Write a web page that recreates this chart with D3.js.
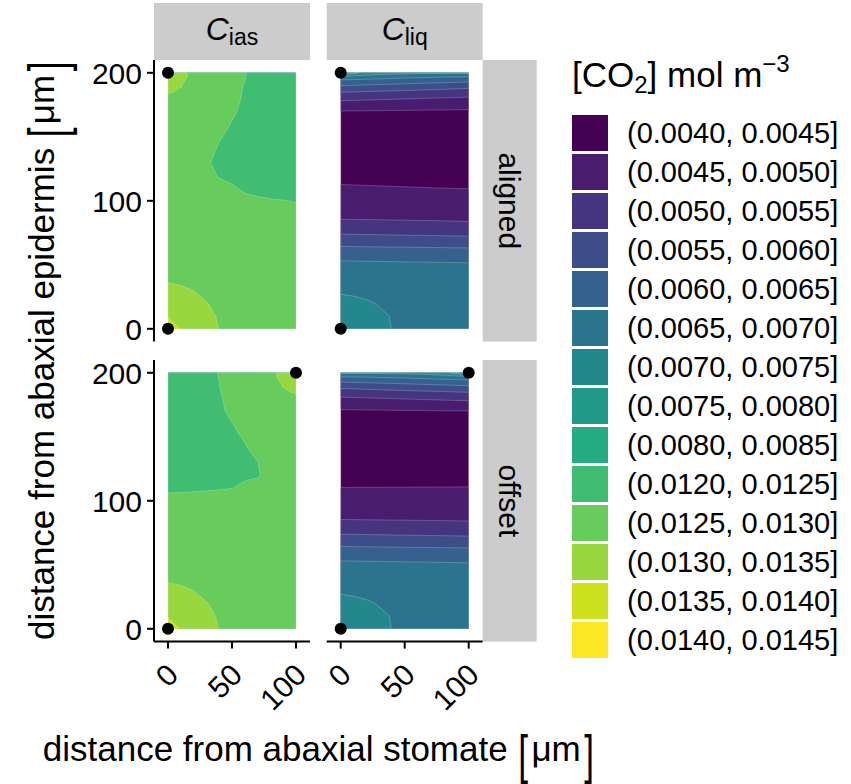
<!DOCTYPE html>
<html>
<head>
<meta charset="utf-8">
<script src="https://cdn.jsdelivr.net/npm/d3@7"></script>
<style>
  body { margin: 0; background: #fff; }
  svg { display: block; font-family: "Liberation Sans", Arial, Helvetica, sans-serif; }
</style>
</head>
<body>
<div id="chart"></div>
<script>
// Grid positions (µm) of the sampled concentration values.
const xs = [0, 10, 20, 30, 40, 50, 60, 70, 80, 90, 100];
const ys = [0, 10, 20, 30, 40, 50, 60, 70, 80, 90, 100, 110, 120, 130, 140, 150, 160, 170, 180, 185, 190, 194, 197, 200];

// [CO2] in µmol m^-3 (1e-6 mol m^-3); one row per y, one column per x.
const ciasAligned = [
  [14200, 13420, 13230, 13080, 12995, 12910, 12840, 12795, 12765, 12748, 12740],
  [13400, 13300, 13180, 13050, 12980, 12900, 12830, 12785, 12755, 12738, 12730],
  [13220, 13160, 13090, 13010, 12930, 12860, 12800, 12760, 12735, 12720, 12712],
  [13060, 13040, 12998, 12930, 12860, 12800, 12755, 12725, 12705, 12692, 12685],
  [12960, 12940, 12900, 12850, 12800, 12755, 12720, 12695, 12680, 12670, 12665],
  [12900, 12880, 12840, 12790, 12745, 12710, 12685, 12668, 12656, 12648, 12644],
  [12840, 12820, 12780, 12740, 12705, 12680, 12660, 12645, 12635, 12628, 12624],
  [12780, 12760, 12730, 12700, 12670, 12650, 12635, 12622, 12612, 12606, 12602],
  [12740, 12720, 12690, 12660, 12635, 12615, 12600, 12590, 12582, 12576, 12572],
  [12720, 12700, 12660, 12630, 12600, 12585, 12570, 12560, 12552, 12545, 12540],
  [12720, 12690, 12640, 12600, 12565, 12545, 12530, 12520, 12512, 12505, 12493],
  [12730, 12690, 12630, 12575, 12540, 12515, 12480, 12460, 12440, 12420, 12410],
  [12740, 12700, 12620, 12540, 12490, 12465, 12440, 12415, 12390, 12370, 12360],
  [12760, 12720, 12630, 12515, 12470, 12445, 12420, 12395, 12370, 12352, 12342],
  [12810, 12780, 12700, 12570, 12475, 12440, 12415, 12390, 12365, 12348, 12338],
  [12830, 12800, 12720, 12620, 12515, 12460, 12425, 12395, 12368, 12348, 12338],
  [12850, 12820, 12750, 12660, 12570, 12490, 12440, 12400, 12370, 12350, 12340],
  [12880, 12850, 12780, 12690, 12605, 12530, 12455, 12410, 12375, 12355, 12345],
  [12950, 12900, 12820, 12720, 12635, 12558, 12475, 12420, 12380, 12360, 12350],
  [13020, 12975, 12850, 12740, 12645, 12565, 12480, 12425, 12385, 12365, 12355],
  [13030, 13010, 12880, 12760, 12655, 12570, 12490, 12430, 12390, 12370, 12360],
  [13080, 13040, 12920, 12780, 12670, 12575, 12502, 12435, 12395, 12375, 12365],
  [13120, 13060, 12940, 12790, 12680, 12580, 12505, 12440, 12400, 12380, 12370],
  [13150, 13050, 12950, 12800, 12690, 12590, 12510, 12440, 12400, 12380, 12370]
];

const ciasOffset = [
  [14200, 13420, 13230, 13080, 12995, 12910, 12840, 12795, 12765, 12748, 12740],
  [13400, 13300, 13180, 13050, 12980, 12900, 12830, 12785, 12755, 12738, 12730],
  [13220, 13160, 13090, 13010, 12930, 12860, 12800, 12760, 12735, 12720, 12712],
  [13060, 13040, 12998, 12930, 12860, 12800, 12755, 12725, 12705, 12692, 12685],
  [12960, 12940, 12900, 12850, 12800, 12755, 12720, 12695, 12680, 12670, 12665],
  [12900, 12880, 12840, 12790, 12745, 12710, 12685, 12668, 12656, 12648, 12644],
  [12840, 12820, 12780, 12740, 12705, 12680, 12660, 12645, 12640, 12640, 12640],
  [12760, 12740, 12720, 12695, 12670, 12650, 12640, 12640, 12645, 12660, 12670],
  [12680, 12670, 12655, 12640, 12630, 12620, 12615, 12620, 12640, 12680, 12700],
  [12620, 12615, 12610, 12605, 12600, 12600, 12600, 12610, 12640, 12690, 12720],
  [12540, 12540, 12545, 12548, 12550, 12555, 12565, 12590, 12640, 12690, 12720],
  [12475, 12478, 12482, 12486, 12492, 12498, 12525, 12560, 12620, 12700, 12730],
  [12360, 12370, 12390, 12415, 12440, 12465, 12480, 12485, 12560, 12680, 12740],
  [12342, 12352, 12370, 12395, 12420, 12445, 12470, 12495, 12600, 12720, 12760],
  [12338, 12348, 12365, 12390, 12415, 12440, 12475, 12560, 12700, 12780, 12810],
  [12338, 12348, 12368, 12395, 12425, 12460, 12520, 12620, 12720, 12800, 12830],
  [12340, 12350, 12370, 12400, 12440, 12495, 12570, 12660, 12750, 12820, 12850],
  [12345, 12355, 12375, 12410, 12465, 12540, 12605, 12690, 12780, 12850, 12880],
  [12350, 12360, 12380, 12420, 12480, 12555, 12635, 12720, 12820, 12900, 12950],
  [12355, 12365, 12385, 12425, 12490, 12565, 12645, 12740, 12850, 12975, 13020],
  [12360, 12370, 12390, 12430, 12498, 12570, 12655, 12760, 12880, 13010, 13030],
  [12365, 12375, 12395, 12435, 12502, 12575, 12670, 12780, 12920, 13040, 13080],
  [12370, 12380, 12400, 12440, 12505, 12580, 12680, 12790, 12940, 13060, 13120],
  [12370, 12380, 12400, 12440, 12510, 12590, 12690, 12800, 12950, 13050, 13150]
];

const cliqAligned = [
  [7250, 7210, 7150, 7080, 6995, 6930, 6880, 6850, 6830, 6820, 6815],
  [7180, 7140, 7090, 7040, 6990, 6930, 6880, 6850, 6830, 6815, 6810],
  [7080, 7050, 7030, 6985, 6945, 6905, 6870, 6845, 6825, 6810, 6805],
  [6965, 6960, 6925, 6905, 6880, 6855, 6835, 6815, 6800, 6790, 6785],
  [6830, 6825, 6815, 6800, 6785, 6770, 6755, 6740, 6725, 6715, 6710],
  [6620, 6614, 6608, 6602, 6596, 6590, 6584, 6578, 6572, 6566, 6560],
  [6234, 6229, 6223, 6218, 6212, 6207, 6202, 6196, 6191, 6185, 6180],
  [5690, 5683, 5676, 5668, 5661, 5654, 5647, 5640, 5632, 5625, 5618],
  [5215, 5206, 5197, 5188, 5179, 5170, 5162, 5153, 5144, 5135, 5126],
  [4830, 4828, 4826, 4824, 4822, 4820, 4819, 4817, 4815, 4813, 4811],
  [4680, 4678, 4676, 4674, 4672, 4670, 4668, 4666, 4664, 4662, 4660],
  [4530, 4526, 4522, 4518, 4514, 4510, 4506, 4502, 4498, 4494, 4490],
  [4420, 4417, 4414, 4411, 4408, 4405, 4402, 4399, 4396, 4393, 4390],
  [4330, 4328, 4326, 4324, 4322, 4320, 4318, 4316, 4314, 4312, 4310],
  [4270, 4269, 4268, 4267, 4266, 4265, 4264, 4263, 4262, 4261, 4260],
  [4255, 4255, 4254, 4254, 4253, 4253, 4252, 4252, 4251, 4251, 4250],
  [4320, 4318, 4316, 4314, 4312, 4310, 4308, 4306, 4304, 4302, 4300],
  [4490, 4485, 4480, 4475, 4470, 4465, 4460, 4455, 4450, 4445, 4440],
  [5115, 5097, 5079, 5061, 5043, 5025, 5007, 4989, 4971, 4953, 4935],
  [5520, 5495, 5470, 5445, 5420, 5395, 5370, 5345, 5320, 5295, 5270],
  [6010, 5978, 5946, 5914, 5882, 5850, 5818, 5786, 5754, 5722, 5690],
  [6425, 6396, 6367, 6338, 6310, 6281, 6252, 6223, 6194, 6166, 6137],
  [6925, 6850, 6780, 6720, 6670, 6630, 6600, 6570, 6550, 6535, 6520],
  [8150, 7600, 7350, 7250, 7190, 7150, 7120, 7100, 7090, 7085, 7080]
];

const cliqOffset = [
  [7250, 7210, 7150, 7080, 6995, 6930, 6880, 6850, 6830, 6820, 6815],
  [7180, 7140, 7090, 7040, 6990, 6930, 6880, 6850, 6830, 6815, 6810],
  [7080, 7050, 7030, 6985, 6945, 6905, 6870, 6845, 6825, 6810, 6805],
  [6965, 6960, 6925, 6905, 6880, 6855, 6835, 6815, 6800, 6790, 6785],
  [6830, 6825, 6815, 6800, 6785, 6770, 6755, 6740, 6725, 6715, 6710],
  [6620, 6614, 6608, 6602, 6596, 6590, 6584, 6578, 6572, 6566, 6560],
  [6234, 6229, 6223, 6218, 6212, 6207, 6202, 6196, 6191, 6185, 6180],
  [5690, 5683, 5676, 5668, 5661, 5654, 5647, 5640, 5632, 5625, 5618],
  [5205, 5198, 5191, 5184, 5177, 5170, 5163, 5156, 5149, 5142, 5135],
  [4825, 4824, 4823, 4822, 4821, 4820, 4819, 4818, 4817, 4816, 4815],
  [4670, 4670, 4669, 4669, 4668, 4668, 4667, 4667, 4666, 4666, 4665],
  [4505, 4505, 4506, 4506, 4507, 4507, 4508, 4508, 4509, 4509, 4510],
  [4400, 4400, 4400, 4400, 4400, 4400, 4400, 4400, 4400, 4400, 4400],
  [4315, 4315, 4315, 4315, 4315, 4315, 4315, 4315, 4315, 4315, 4315],
  [4262, 4262, 4262, 4262, 4262, 4262, 4262, 4262, 4262, 4262, 4262],
  [4252, 4252, 4252, 4252, 4252, 4252, 4252, 4252, 4252, 4252, 4252],
  [4305, 4307, 4309, 4311, 4313, 4315, 4317, 4319, 4321, 4323, 4325],
  [4440, 4445, 4450, 4455, 4460, 4465, 4470, 4475, 4480, 4485, 4490],
  [4935, 4953, 4971, 4989, 5007, 5025, 5043, 5061, 5079, 5097, 5115],
  [5270, 5295, 5320, 5345, 5370, 5395, 5420, 5445, 5470, 5495, 5520],
  [5690, 5722, 5754, 5786, 5818, 5850, 5882, 5914, 5946, 5978, 6010],
  [6137, 6166, 6194, 6223, 6252, 6281, 6310, 6338, 6367, 6396, 6425],
  [6520, 6535, 6550, 6570, 6600, 6630, 6670, 6720, 6780, 6850, 6925],
  [7080, 7085, 7090, 7100, 7120, 7150, 7190, 7250, 7350, 7600, 8150]
];

// lower edges of the legend bins (same units) and their labels
const binLow = [4000, 4500, 5000, 5500, 6000, 6500, 7000, 7500, 8000, 12000, 12500, 13000, 13500, 14000];
const binLabels = ["(0.0040, 0.0045]", "(0.0045, 0.0050]", "(0.0050, 0.0055]", "(0.0055, 0.0060]",
  "(0.0060, 0.0065]", "(0.0065, 0.0070]", "(0.0070, 0.0075]", "(0.0075, 0.0080]", "(0.0080, 0.0085]",
  "(0.0120, 0.0125]", "(0.0125, 0.0130]", "(0.0130, 0.0135]", "(0.0135, 0.0140]", "(0.0140, 0.0145]"];

const cols = ["ias", "liq"];
const rows = ["aligned", "offset"];
const fields = { aligned: [ciasAligned, cliqAligned], offset: [ciasOffset, cliqOffset] };
// stomata (µm) drawn as black dots
const stomata = { aligned: [[0, 0], [0, 200]], offset: [[0, 0], [100, 200]] };

const xTicks = [0, 50, 100];
const yTicks = [0, 100, 200];

const width = 851, height = 784;
const k = 1.28;                    // px per µm (coord_fixed)
const colLeft = [154, 326.7], colW = 156;
const rowTop = [60, 360], rowH = 220 * k;
const stripH = 57, stripW = 54;

const color = i => d3.interpolateViridis(i / (binLow.length - 1));

const svg = d3.select("#chart").append("svg")
    .attr("width", width)
    .attr("height", height);

const gx = d3.scaleLinear().domain(d3.range(xs.length)).range(xs).clamp(true);
const gy = d3.scaleLinear().domain(d3.range(ys.length)).range(ys).clamp(true);
const contours = d3.contours().size([xs.length, ys.length]).thresholds(binLow);
const geo = d3.geoPath();

rows.forEach((r, ri) => {
    cols.forEach((c, ci) => {
        const x = d3.scaleLinear().domain([50 - colW / 2 / k, 50 + colW / 2 / k]).range([colLeft[ci], colLeft[ci] + colW]);
        const y = d3.scaleLinear().domain([-10, 210]).range([rowTop[ri] + rowH, rowTop[ri]]);
        const g = svg.append("g");

        const bands = contours(fields[r][ci].flat());
        g.selectAll("path").data(bands).join("path")
            .attr("d", b => geo({
                type: "MultiPolygon",
                coordinates: b.coordinates.map(poly => poly.map(ring =>
                    ring.map(([a, bb]) => [x(gx(a - 0.5)), y(gy(bb - 0.5))])))
            }))
            .attr("fill", (b, i) => color(i))
            .attr("stroke", "#fff")
            .attr("stroke-opacity", 0.35)
            .attr("stroke-width", 0.6);

        g.selectAll("circle").data(stomata[r]).join("circle")
            .attr("cx", d => x(d[0]))
            .attr("cy", d => y(d[1]))
            .attr("r", 6)
            .attr("fill", "#000");

        // y axis only on the first column
        if (ci === 0) {
            const ax = g.append("g").attr("transform", `translate(${colLeft[0]},0)`);
            ax.append("line").attr("y1", rowTop[ri]).attr("y2", rowTop[ri] + rowH)
                .attr("stroke", "#000").attr("stroke-width", 2);
            yTicks.forEach(t => {
                ax.append("line").attr("x1", -7).attr("x2", 0).attr("y1", y(t)).attr("y2", y(t))
                    .attr("stroke", "#000").attr("stroke-width", 2);
                ax.append("text").attr("x", -12).attr("y", y(t)).attr("dy", "0.36em")
                    .attr("text-anchor", "end").attr("font-size", 30).text(t);
            });
        }
        // x axis only on the bottom row
        if (ri === rows.length - 1) {
            const yb = rowTop[ri] + rowH;
            g.append("line").attr("x1", colLeft[ci]).attr("x2", colLeft[ci] + colW)
                .attr("y1", yb).attr("y2", yb).attr("stroke", "#000").attr("stroke-width", 2);
            xTicks.forEach(t => {
                g.append("line").attr("x1", x(t)).attr("x2", x(t)).attr("y1", yb).attr("y2", yb + 7)
                    .attr("stroke", "#000").attr("stroke-width", 2);
                g.append("text")
                    .attr("transform", `translate(${x(t) - 3},${yb + 20}) rotate(-45)`)
                    .attr("dy", "0.71em")
                    .attr("text-anchor", "end").attr("font-size", 30).text(t);
            });
        }
    });
});

// top strips: C_ias, C_liq
cols.forEach((c, ci) => {
    svg.append("rect").attr("x", colLeft[ci]).attr("y", rowTop[0] - stripH)
        .attr("width", colW).attr("height", stripH).attr("fill", "#cccccc");
    const t = svg.append("text").attr("x", colLeft[ci] + colW / 2).attr("y", rowTop[0] - 20)
        .attr("text-anchor", "middle").attr("font-size", 32);
    t.append("tspan").attr("font-style", "italic").text("C");
    t.append("tspan").attr("font-size", 23).attr("dy", 5).text(c);
});

// right strips
rows.forEach((r, ri) => {
    const x0 = colLeft[1] + colW;
    svg.append("rect").attr("x", x0).attr("y", rowTop[ri])
        .attr("width", stripW).attr("height", rowH).attr("fill", "#cccccc");
    svg.append("text")
        .attr("transform", `translate(${x0 + stripW / 2},${rowTop[ri] + rowH / 2}) rotate(90)`)
        .attr("text-anchor", "middle").attr("dy", "0.35em").attr("font-size", 30).text(r);
});

// axis titles with stretched unit brackets
function unitTitle(label, unit, fs) {
    const g = svg.append("g");
    const a = g.append("text").attr("font-size", fs).text(label);
    let w = a.node().getComputedTextLength() + fs * 0.3;
    const s = 1.55;
    const br = txt => {
        const b = g.append("text").attr("font-size", fs).text(txt)
            .attr("transform", `translate(${w},${fs * 0.33}) scale(1,${s})`);
        w += b.node().getComputedTextLength();
    };
    br("[");
    const u = g.append("text").attr("font-size", fs).attr("x", w + fs * 0.1).text(unit);
    w += u.node().getComputedTextLength() + fs * 0.2;
    br("]");
    return { g, w };
}

const xt = unitTitle("distance from abaxial stomate", "\u03bcm", 35);
xt.g.attr("transform", `translate(${(colLeft[0] + colLeft[1] + colW) / 2 - xt.w / 2},761)`);

const yt = unitTitle("distance from abaxial epidermis", "\u03bcm", 35);
yt.g.attr("transform", `translate(54,${(rowTop[0] + rowTop[1] + rowH) / 2 + yt.w / 2}) rotate(-90)`);

// legend
const lg = svg.append("g").attr("transform", "translate(572,0)");
const lt = lg.append("text").attr("y", 87).attr("font-size", 35);
lt.append("tspan").text("[CO");
lt.append("tspan").attr("font-size", 24).attr("dy", 6).text("2");
lt.append("tspan").attr("dy", -6).text("] mol m");
lt.append("tspan").attr("font-size", 24).attr("dy", -15).text("\u22123");

binLabels.forEach((l, i) => {
    lg.append("rect").attr("x", 0).attr("y", 115 + i * 39).attr("width", 36).attr("height", 36)
        .attr("fill", color(i));
    lg.append("text").attr("x", 55).attr("y", 115 + i * 39 + 18).attr("dy", "0.36em")
        .attr("font-size", 29).text(l);
});
</script>
</body>
</html>
